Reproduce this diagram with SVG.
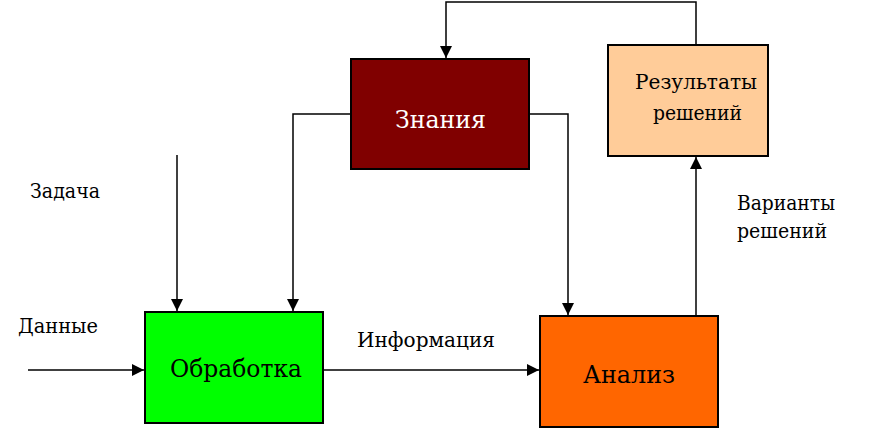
<svg xmlns="http://www.w3.org/2000/svg" width="875" height="430" viewBox="0 0 875 430">
<defs>
<marker id="ah" viewBox="0 0 10 10" refX="10" refY="5" markerWidth="12" markerHeight="12" markerUnits="userSpaceOnUse" orient="auto"><path d="M0,0 L10,5 L0,10 z" fill="#000"/></marker>
<style>
.box{stroke:#000;stroke-width:2}
.t{font-family:'DejaVu Serif','Liberation Serif',serif;font-size:20px;fill:#000}
.b{font-size:25px}
.ln{fill:none;stroke:#000;stroke-width:1.5}
</style>
</defs>
<rect width="875" height="430" fill="#fff"/>
<g id="connectors">
<path class="ln" d="M696,45 V2 H446 V58" marker-end="url(#ah)"/>
<path class="ln" d="M177,155 V311" marker-end="url(#ah)"/>
<path class="ln" d="M351,114 H293 V311" marker-end="url(#ah)"/>
<path class="ln" d="M529,114 H568 V315" marker-end="url(#ah)"/>
<path class="ln" d="M28,370 H144" marker-end="url(#ah)"/>
<path class="ln" d="M323,370 H539" marker-end="url(#ah)"/>
<path class="ln" d="M696,322 V157" marker-end="url(#ah)"/>
</g>
<g id="znaniya">
<rect class="box" x="351" y="59" width="178" height="110" fill="#800000"/>
<text class="t b" x="395" y="128" textLength="91" lengthAdjust="spacingAndGlyphs" style="fill:#fff">Знания</text>
</g>
<g id="rezultaty">
<rect class="box" x="608" y="45" width="160" height="111" fill="#FFCC99"/>
<text class="t" x="635" y="89" textLength="122" lengthAdjust="spacingAndGlyphs">Результаты</text>
<text class="t" x="653" y="120" textLength="89" lengthAdjust="spacingAndGlyphs">решений</text>
</g>
<g id="obrabotka">
<rect class="box" x="145" y="312" width="178" height="111" fill="#00FF00"/>
<text class="t b" x="170" y="377" textLength="132" lengthAdjust="spacingAndGlyphs">Обработка</text>
</g>
<g id="analiz">
<rect class="box" x="540" y="316" width="178" height="111" fill="#FF6600"/>
<text class="t b" x="583" y="383" textLength="92" lengthAdjust="spacingAndGlyphs">Анализ</text>
</g>
<g id="labels">
<text class="t" x="30" y="198" textLength="70" lengthAdjust="spacingAndGlyphs">Задача</text>
<text class="t" x="18" y="333" textLength="80" lengthAdjust="spacingAndGlyphs">Данные</text>
<text class="t" x="357" y="347" textLength="138" lengthAdjust="spacingAndGlyphs">Информация</text>
<text class="t" x="737" y="210" textLength="98" lengthAdjust="spacingAndGlyphs">Варианты</text>
<text class="t" x="737" y="238" textLength="90" lengthAdjust="spacingAndGlyphs">решений</text>
</g>
</svg>
